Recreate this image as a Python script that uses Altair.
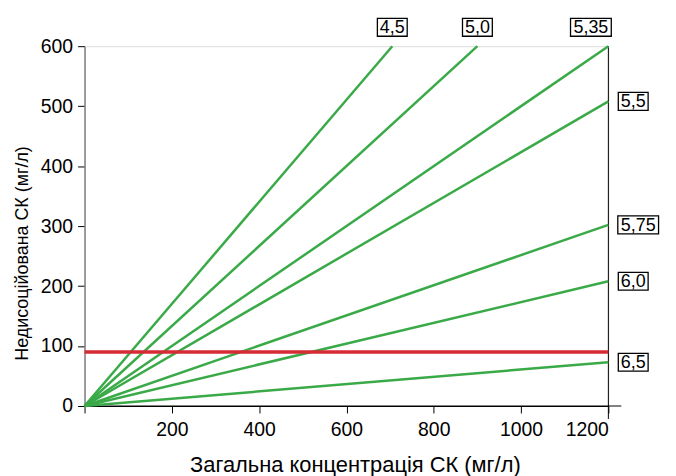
import altair as alt
import pandas as pd

# ---- data ----
ph_labels = ["4,5", "5,0", "5,35", "5,5", "5,75", "6,0", "6,5"]
end_x = [705, 900, 1200, 1200, 1200, 1200, 1200]
end_y = [600, 600, 600, 508, 302, 208, 73]
label_x = [705, 900, 1160, 1200, 1200, 1200, 1200]
label_side = ["top", "top", "top", "right", "right", "right", "right"]
label_wide = [False, False, True, False, True, False, False]
red_level = 90
x_ticks = [0, 200, 400, 600, 800, 1000, 1200]
y_ticks = [0, 100, 200, 300, 400, 500, 600]

FONT = "Liberation Sans"
GREEN = "#3aaa48"
RED = "#d62b35"
W, H = 527, 362

rows = []
for lab, ex, ey in zip(ph_labels, end_x, end_y):
    rows.append({"pH": lab, "x": 0, "y": 0, "o": 0})
    rows.append({"pH": lab, "x": ex, "y": ey, "o": 1})
lines_df = pd.DataFrame(rows)

labels_df = pd.DataFrame({
    "pH": ph_labels, "lx": label_x, "ly": end_y,
    "side": label_side, "wide": label_wide,
})

xscale = alt.Scale(domain=[0, 1200], nice=False, zero=True)
yscale = alt.Scale(domain=[0, 600], nice=False)

xaxis = alt.Axis(
    values=x_ticks, format="d",
    labelExpr="datum.value == 0 ? '' : datum.label",
    title="Загальна концентрація СК (мг/л)", grid=False,
    domainColor="black", domainWidth=1, tickColor="black", tickSize=7,
    labelFont=FONT, labelFontSize=19.5, labelColor="black", labelPadding=8,
    titleFont=FONT, titleFontSize=22, titleFontWeight="normal",
    titleColor="black", titleX=272, titleY=66, titleAlign="center",
    titleBaseline="alphabetic",
)
yaxis = alt.Axis(
    values=y_ticks, format="d", title="Недисоційована СК (мг/л)", grid=False,
    domainColor="#808080", domainWidth=1.5, tickColor="black", tickSize=7,
    labelFont=FONT, labelFontSize=19.5, labelColor="black", labelPadding=5,
    titleFont=FONT, titleFontSize=18, titleFontWeight="normal",
    titleColor="black", titleX=-62, titleY=208, titleAngle=270,
    titleAlign="center", titleBaseline="middle",
)

lines = alt.Chart(lines_df).mark_line(color=GREEN, strokeWidth=2.5).encode(
    x=alt.X("x:Q", scale=xscale, axis=xaxis),
    y=alt.Y("y:Q", scale=yscale, axis=yaxis),
    detail="pH:N",
    order="o:Q",
)

red = alt.Chart(pd.DataFrame({"level": [red_level]})).mark_rule(
    color=RED, strokeWidth=3.5
).encode(
    y=alt.Y("level:Q", scale=yscale),
    x=alt.value(0), x2=alt.value(W),
)

# frame extensions (right border below axis, bottom axis beyond 1200)
ext_right = alt.Chart(pd.DataFrame({"a": [0]})).mark_rule(color="black", strokeWidth=1).encode(
    x=alt.value(W), y=alt.value(0), y2=alt.value(H + 13)
)
ext_bottom = alt.Chart(pd.DataFrame({"a": [0]})).mark_rule(color="black", strokeWidth=1).encode(
    x=alt.value(0), x2=alt.value(W + 13), y=alt.value(H)
)


def label_layers(side, wide, x_off, y_off):
    box_w = 41 if wide else 30
    h = 18 / box_w
    path = f"M-1,-{h:.4f}H1V{h:.4f}H-1Z"
    base = alt.Chart(labels_df).transform_filter(
        f"datum.side == '{side}' && datum.wide == {'true' if wide else 'false'}"
    ).encode(
        x=alt.X("lx:Q", scale=xscale),
        y=alt.Y("ly:Q", scale=yscale),
    )
    box = base.mark_point(
        shape=path, size=box_w * box_w, filled=False, stroke="black",
        strokeWidth=1.3, opacity=1, xOffset=x_off, yOffset=y_off,
    )
    txt = base.mark_text(
        font=FONT, fontSize=18, color="black", align="center",
        baseline="middle", xOffset=x_off, yOffset=y_off + 1,
    ).encode(text="pH:N")
    return [box, txt]


label_parts = (
    label_layers("top", False, 0, -19)
    + label_layers("top", True, 0, -19)
    + label_layers("right", False, 25, 0)
    + label_layers("right", True, 30, 0)
)

chart = alt.layer(
    ext_right, ext_bottom, lines, red, *label_parts
).properties(
    width=W, height=H,
    autosize=alt.AutoSizeParams(type="none"),
    padding={"left": 77, "top": 37, "right": 60, "bottom": 69},
).configure_view(
    stroke="black", strokeWidth=1
).configure(background="white")

chart.save("out.html", embed_options={"renderer": "svg", "actions": False})
